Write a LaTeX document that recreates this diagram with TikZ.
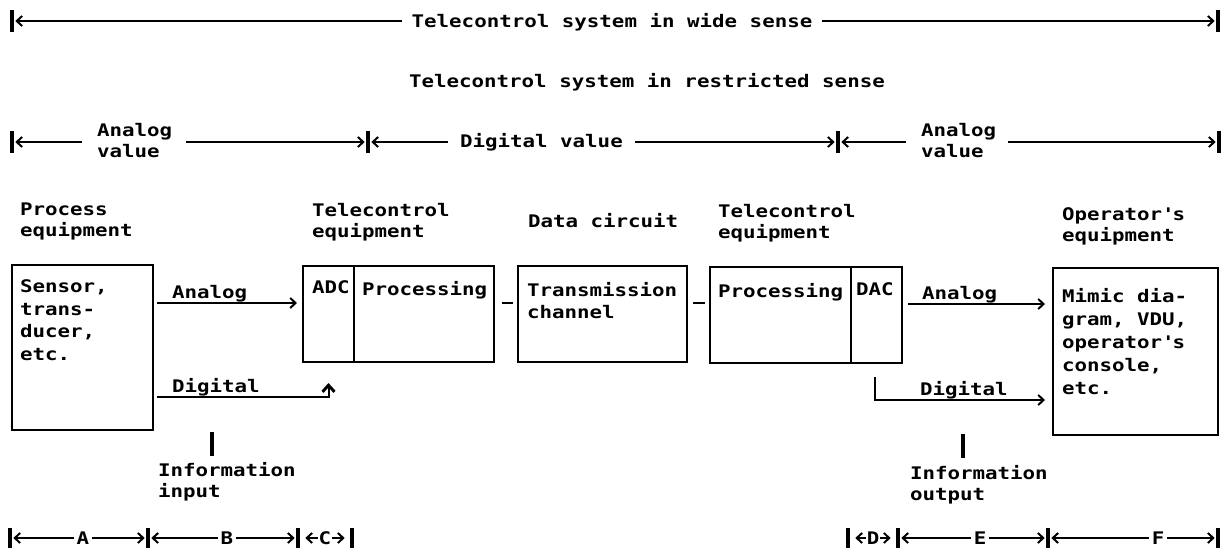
\documentclass[tikz,border=0pt]{standalone}
\usepackage{fontspec}
\setmainfont{DejaVu Sans Mono}[FakeStretch=1.2]
\usetikzlibrary{arrows.meta,calc,fit}
\begin{document}
\begin{tikzpicture}[x=0.75pt,y=-0.75pt,
  every node/.style={font=\bfseries\fontsize{13}{15.75}\selectfont, inner sep=0pt, outer sep=0pt},
  lbl/.style={align=left, anchor=north west},
  boxtxt/.style={align=left, anchor=north west, font=\bfseries\fontsize{13}{16.9}\selectfont},
  optxt/.style={align=left, anchor=north west, font=\bfseries\fontsize{13}{17.25}\selectfont},
  blk/.style={draw, line width=2.1pt, inner sep=0pt},
  conn/.style={line width=1.5pt},
  arr/.style={conn, -{Straight Barb[length=4pt,width=7.5pt]}},
  uparr/.style={line width=1.5pt, -{Straight Barb[length=5pt,width=9pt,line width=2.2pt]}},
  dimarr/.style={arr, shorten >=2.5pt},
  bar/.style={line width=2.4pt},
]
\path[use as bounding box, fill=white] (0,0) rectangle (1226,553);

% ---- top row: wide sense
\coordinate (tl) at (12,21); \coordinate (tr) at (1218,21);
\draw[bar] ($(tl)+(0,-11)$) -- ($(tl)+(0,11)$);
\draw[bar] ($(tr)+(0,-11)$) -- ($(tr)+(0,11)$);
\node[anchor=base] (wide) at (612,27) {Telecontrol system in wide sense};
\draw[dimarr] ($(wide.west|-tl)+(-10,0)$) -- (tl);
\draw[dimarr] ($(wide.east|-tr)+(10,0)$) -- (tr);

\node[anchor=base west] (restr) at (409,87) {Telecontrol system in restricted sense};

% ---- value row
\coordinate (v1) at (12,142); \coordinate (v2) at (368,142);
\coordinate (v3) at (838,142); \coordinate (v4) at (1219,142);
\foreach \c in {v1,v2,v3,v4}{\draw[bar] ($(\c)+(0,-11)$) -- ($(\c)+(0,11)$);}
\node[lbl] (av1) at (97,123) {Analog\\value};
\draw[dimarr] ($(av1.west|-v1)+(-15,0)$) -- (v1);
\draw[dimarr] ($(av1.east|-v2)+(14,0)$) -- (v2);
\node[anchor=west] (dv) at (460,142) {Digital value};
\draw[dimarr] ($(dv.west|-v2)+(-12,0)$) -- (v2);
\draw[dimarr] ($(dv.east|-v3)+(12,0)$) -- (v3);
\node[lbl] (av2) at (921,123) {Analog\\value};
\draw[dimarr] ($(av2.west|-v3)+(-15,0)$) -- (v3);
\draw[dimarr] ($(av2.east|-v4)+(12,0)$) -- (v4);

% ---- headers
\node[lbl] (h1) at (20,203) {Process\\equipment};
\node[lbl] (h2) at (312,203) {Telecontrol\\equipment};
\node[lbl] (h3) at (528,213) {Data circuit};
\node[lbl] (h4) at (718,204) {Telecontrol\\equipment};
\node[lbl] (h5) at (1062,208) {Operator\textquotesingle s\\equipment};

% ---- boxes
\node[blk, fit={(12,265) (153,430)}] (b1) {};
\node[boxtxt] (t1) at (20,280) {Sensor,\\trans-\\ducer,\\etc.};
\node[blk, fit={(303,266) (354,362)}] (adc) {};
\node[blk, fit={(354,266) (494,362)}] (proc1) {};
\node[boxtxt] at (312,281) {ADC};
\node[boxtxt] at (362,281) {Processing};
\node[blk, fit={(518,266) (687,362)}] (trans) {};
\node[boxtxt] at (527,282) {Transmission\\channel};
\node[blk, fit={(710,267) (851,363)}] (proc2) {};
\node[blk, fit={(851,267) (902,363)}] (dac) {};
\node[boxtxt] at (718,283) {Processing};
\node[boxtxt] at (856,283) {DAC};
\node[blk, fit={(1053,268) (1218,435)}] (op) {};
\node[optxt] at (1062,288) {Mimic dia-\\gram, VDU,\\operator\textquotesingle s\\console,\\etc.};

% ---- links between boxes
\draw[line width=1.9pt] ($(proc1.east|-0,303)+(8,0)$) -- ($(trans.west|-0,303)+(-5,0)$);
\draw[line width=1.9pt] ($(trans.east|-0,303)+(6,0)$) -- ($(proc2.west|-0,303)+(-5,0)$);

% ---- signal connectors
\draw[arr, shorten >=4.5pt] ($(b1.east|-0,303)+(4,0)$) -- (adc.west|-0,303);
\node[anchor=base west] (la) at (172,298) {Analog};
\draw[uparr] ($(b1.east|-0,397)+(4,0)$) -| ($(adc.south)+(0,21)$);
\node[anchor=base west] (ld) at (172,392) {Digital};
\draw[arr, shorten >=6pt] ($(dac.east|-0,304)+(6,0)$) -- (op.west|-0,304);
\node[anchor=base west] (ra) at (922,299) {Analog};
\draw[arr, shorten >=6pt] ($(dac.south)+(-2,14)$) |- (op.west|-0,400);
\node[anchor=base west] (rd) at (920,395) {Digital};

% ---- information input / output
\node[lbl] (iin) at (158,462) {Information\\input};
\draw[bar] ($(iin.north west)+(54,-6)$) -- ++(0,-24);
\node[lbl] (iout) at (910,465) {Information\\output};
\draw[bar] ($(iout.north west)+(53,-7)$) -- ++(0,-24);

% ---- bottom dimension row
\foreach \n/\x in {q1/10,q2/148,q3/298,q4/352,q5/848,q6/898,q7/1048,q8/1218}{
  \coordinate (\n) at (\x,538);
  \draw[bar] ($(\n)+(0,-10)$) -- ($(\n)+(0,10)$);
}
\node (A) at (83,538) {A};
\node (B) at (227,538) {B};
\node (C) at (325,538) {C};
\node (D) at (873,538) {D};
\node (E) at (980,538) {E};
\node (F) at (1158,538) {F};
\draw[dimarr] ($(A.west)+(-3,0)$) -- (q1);
\draw[dimarr] ($(A.east)+(3,0)$) -- (q2);
\draw[dimarr] ($(B.west)+(-3,0)$) -- (q2);
\draw[dimarr] ($(B.east)+(3,0)$) -- (q3);
\draw[arr, shorten >=5.5pt] ($(C.west)+(-1,0)$) -- (q3);
\draw[arr, shorten >=5.5pt] ($(C.east)+(1,0)$) -- (q4);
\draw[arr, shorten >=5.5pt] ($(D.west)+(-1,0)$) -- (q5);
\draw[arr, shorten >=5.5pt] ($(D.east)+(1,0)$) -- (q6);
\draw[dimarr] ($(E.west)+(-3,0)$) -- (q6);
\draw[dimarr] ($(E.east)+(3,0)$) -- (q7);
\draw[dimarr] ($(F.west)+(-3,0)$) -- (q7);
\draw[dimarr] ($(F.east)+(3,0)$) -- (q8);
\end{tikzpicture}
\end{document}
